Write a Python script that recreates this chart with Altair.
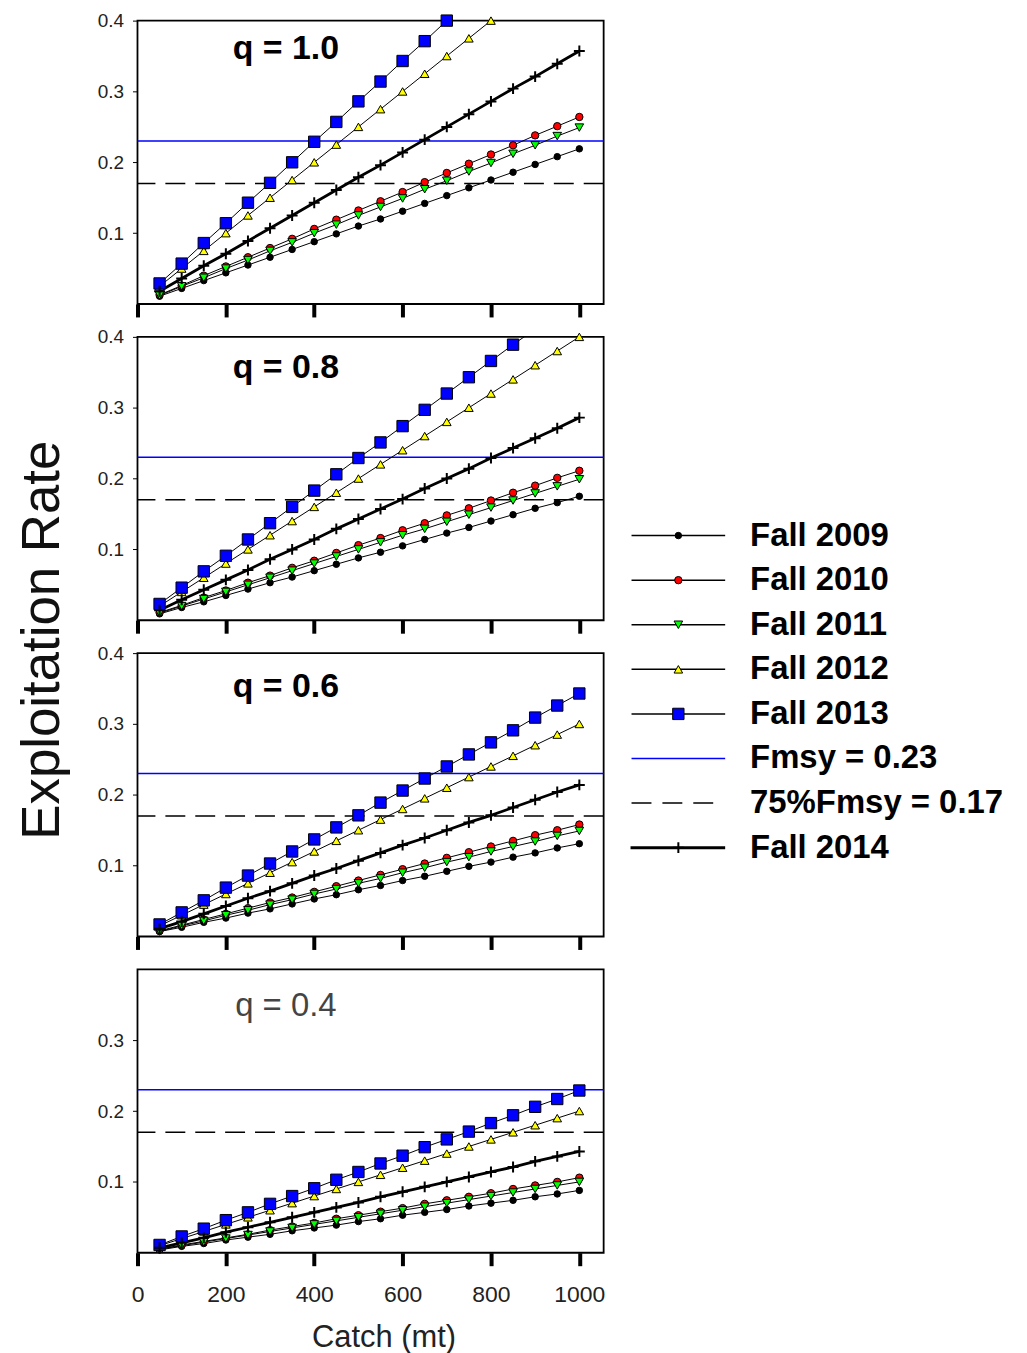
import altair as alt
import pandas as pd

# ---------------- data ----------------
catch = [50, 100, 150, 200, 250, 300, 350, 400, 450, 500,
         550, 600, 650, 700, 750, 800, 850, 900, 950, 1000]

series_names = ["Fall 2009", "Fall 2010", "Fall 2011", "Fall 2012", "Fall 2013", "Fall 2014"]
q_labels = ["q = 1.0", "q = 0.8", "q = 0.6", "q = 0.4"]

# q = 1.0
q10_2009 = [0.011, 0.022, 0.033, 0.044, 0.055, 0.066, 0.077, 0.088, 0.099, 0.110,
            0.120, 0.131, 0.142, 0.153, 0.164, 0.175, 0.186, 0.197, 0.208, 0.219]
q10_2010 = [0.013, 0.026, 0.040, 0.053, 0.066, 0.079, 0.092, 0.106, 0.119, 0.132,
            0.145, 0.158, 0.172, 0.185, 0.198, 0.211, 0.224, 0.238, 0.251, 0.264]
q10_2011 = [0.012, 0.025, 0.037, 0.050, 0.062, 0.075, 0.087, 0.100, 0.112, 0.125,
            0.137, 0.149, 0.162, 0.174, 0.187, 0.199, 0.212, 0.224, 0.237, 0.249]
q10_2012 = [0.025, 0.050, 0.075, 0.100, 0.125, 0.150, 0.175, 0.200, 0.225, 0.250,
            0.275, 0.300, 0.325, 0.350, 0.375, 0.400, 0.425, 0.450, 0.475, 0.500]
q10_2013 = [0.029, 0.057, 0.086, 0.114, 0.143, 0.171, 0.200, 0.229, 0.257, 0.286,
            0.314, 0.343, 0.371, 0.400, 0.429, 0.457, 0.486, 0.514, 0.543, 0.571]
q10_2014 = [0.018, 0.036, 0.054, 0.071, 0.089, 0.107, 0.125, 0.143, 0.161, 0.179,
            0.196, 0.214, 0.232, 0.250, 0.268, 0.286, 0.304, 0.321, 0.339, 0.357]

# q = 0.8
q08_2009 = [0.009, 0.018, 0.026, 0.035, 0.044, 0.053, 0.061, 0.070, 0.079, 0.088,
            0.096, 0.105, 0.114, 0.123, 0.131, 0.140, 0.149, 0.158, 0.166, 0.175]
q08_2010 = [0.011, 0.021, 0.032, 0.042, 0.053, 0.063, 0.074, 0.084, 0.095, 0.106,
            0.116, 0.127, 0.137, 0.148, 0.158, 0.169, 0.180, 0.190, 0.201, 0.211]
q08_2011 = [0.010, 0.020, 0.030, 0.040, 0.050, 0.060, 0.070, 0.080, 0.090, 0.100,
            0.110, 0.120, 0.129, 0.139, 0.149, 0.159, 0.169, 0.179, 0.189, 0.199]
q08_2012 = [0.020, 0.040, 0.060, 0.080, 0.100, 0.120, 0.140, 0.160, 0.180, 0.200,
            0.220, 0.240, 0.260, 0.280, 0.300, 0.320, 0.340, 0.360, 0.380, 0.400]
q08_2013 = [0.023, 0.046, 0.069, 0.091, 0.114, 0.137, 0.160, 0.183, 0.206, 0.229,
            0.251, 0.274, 0.297, 0.320, 0.343, 0.366, 0.389, 0.411, 0.434, 0.457]
q08_2014 = [0.014, 0.029, 0.043, 0.057, 0.071, 0.086, 0.100, 0.114, 0.129, 0.143,
            0.157, 0.171, 0.186, 0.200, 0.214, 0.229, 0.243, 0.257, 0.271, 0.286]

# q = 0.6
q06_2009 = [0.007, 0.013, 0.020, 0.026, 0.033, 0.039, 0.046, 0.053, 0.059, 0.066,
            0.072, 0.079, 0.085, 0.092, 0.099, 0.105, 0.112, 0.118, 0.125, 0.131]
q06_2010 = [0.008, 0.016, 0.024, 0.032, 0.040, 0.048, 0.055, 0.063, 0.071, 0.079,
            0.087, 0.095, 0.103, 0.111, 0.119, 0.127, 0.135, 0.143, 0.150, 0.158]
q06_2011 = [0.007, 0.015, 0.022, 0.030, 0.037, 0.045, 0.052, 0.060, 0.067, 0.075,
            0.082, 0.090, 0.097, 0.105, 0.112, 0.120, 0.127, 0.134, 0.142, 0.149]
q06_2012 = [0.015, 0.030, 0.045, 0.060, 0.075, 0.090, 0.105, 0.120, 0.135, 0.150,
            0.165, 0.180, 0.195, 0.210, 0.225, 0.240, 0.255, 0.270, 0.285, 0.300]
q06_2013 = [0.017, 0.034, 0.051, 0.069, 0.086, 0.103, 0.120, 0.137, 0.154, 0.171,
            0.189, 0.206, 0.223, 0.240, 0.257, 0.274, 0.291, 0.309, 0.326, 0.343]
q06_2014 = [0.011, 0.021, 0.032, 0.043, 0.054, 0.064, 0.075, 0.086, 0.096, 0.107,
            0.118, 0.129, 0.139, 0.150, 0.161, 0.171, 0.182, 0.193, 0.204, 0.214]

# q = 0.4
q04_2009 = [0.004, 0.009, 0.013, 0.018, 0.022, 0.026, 0.031, 0.035, 0.039, 0.044,
            0.048, 0.053, 0.057, 0.061, 0.066, 0.070, 0.074, 0.079, 0.083, 0.088]
q04_2010 = [0.005, 0.011, 0.016, 0.021, 0.026, 0.032, 0.037, 0.042, 0.048, 0.053,
            0.058, 0.063, 0.069, 0.074, 0.079, 0.084, 0.090, 0.095, 0.100, 0.106]
q04_2011 = [0.005, 0.010, 0.015, 0.020, 0.025, 0.030, 0.035, 0.040, 0.045, 0.050,
            0.055, 0.060, 0.065, 0.070, 0.075, 0.080, 0.085, 0.090, 0.095, 0.100]
q04_2012 = [0.010, 0.020, 0.030, 0.040, 0.050, 0.060, 0.070, 0.080, 0.090, 0.100,
            0.110, 0.120, 0.130, 0.140, 0.150, 0.160, 0.170, 0.180, 0.190, 0.200]
q04_2013 = [0.011, 0.023, 0.034, 0.046, 0.057, 0.069, 0.080, 0.091, 0.103, 0.114,
            0.126, 0.137, 0.149, 0.160, 0.171, 0.183, 0.194, 0.206, 0.217, 0.229]
q04_2014 = [0.007, 0.014, 0.021, 0.029, 0.036, 0.043, 0.050, 0.057, 0.064, 0.071,
            0.079, 0.086, 0.093, 0.100, 0.107, 0.114, 0.121, 0.129, 0.136, 0.143]

ref_names = ["Fmsy = 0.23", "75%Fmsy = 0.17"]
ref_values = [0.23, 0.17]

legend_entries = ["Fall 2009", "Fall 2010", "Fall 2011", "Fall 2012", "Fall 2013",
                  "Fmsy = 0.23", "75%Fmsy = 0.17", "Fall 2014"]

x_ticks = [0, 200, 400, 600, 800, 1000]
y_ticks = [0.1, 0.2, 0.3, 0.4]
y_ticks_last = [0.1, 0.2, 0.3]

# ---------------- table ----------------
panel_series = {
    "q = 1.0": [q10_2009, q10_2010, q10_2011, q10_2012, q10_2013, q10_2014],
    "q = 0.8": [q08_2009, q08_2010, q08_2011, q08_2012, q08_2013, q08_2014],
    "q = 0.6": [q06_2009, q06_2010, q06_2011, q06_2012, q06_2013, q06_2014],
    "q = 0.4": [q04_2009, q04_2010, q04_2011, q04_2012, q04_2013, q04_2014],
}
rows = []
for ql in q_labels:
    for name, vals in zip(series_names, panel_series[ql]):
        for c, v in zip(catch, vals):
            rows.append({"panel": ql, "series": name, "catch": c, "value": v})
df = pd.DataFrame(rows)
ref_df = pd.DataFrame({"name": ref_names, "value": ref_values})
leg_df = pd.DataFrame({"series": legend_entries})
lab_df = pd.DataFrame({"panel": q_labels})

# ---------------- styles ----------------
FONT = "Liberation Sans"
PLUS = "M-1,0H1M0,-1V1"
marker_names = series_names[:5]
shape_scale = alt.Scale(type="ordinal", domain=marker_names,
                        range=["circle", "circle", "triangle-down", "triangle-up", "square"])
fill_scale = alt.Scale(type="ordinal", domain=marker_names,
                       range=["#000000", "#ff0000", "#00ff00", "#ffff00", "#0000ff"])
size_scale = alt.Scale(type="ordinal", domain=marker_names, range=[42, 55, 75, 75, 130])

PW, PH = 468, 284.5
SP = 32.5
label_y = [29, 31, 34, 37]
is_marker = alt.FieldOneOfPredicate(field="series", oneOf=marker_names)
is_2014 = alt.datum.series == series_names[5]


def panel(i):
    last = i == 3
    x_enc = alt.X(
        "catch:Q",
        scale=alt.Scale(domain=[0, 1055], nice=False, zero=False),
        axis=alt.Axis(values=x_ticks, labels=last, title="Catch (mt)" if last else None,
                      format="d", labelFlush=False,
                      domain=False, grid=False, tickSize=13, tickWidth=4, tickColor="black",
                      labelFontSize=23, labelColor="#222", labelPadding=18, labelFont=FONT,
                      titleFontSize=31, titleFontWeight="normal", titleColor="#222",
                      titleFont=FONT, titlePadding=16, titleX=247, titleAnchor="start",
                      titleAlign="center"),
    )
    y_enc = alt.Y(
        "value:Q",
        scale=alt.Scale(domain=[0, 0.4], nice=False, zero=False),
        axis=alt.Axis(values=y_ticks_last if last else y_ticks, format=".1f", title=None,
                      labelFlush=False,
                      domain=False, grid=False, tickSize=5, tickWidth=1, tickColor="black",
                      labelFontSize=19, labelColor="#222", labelPadding=9, labelFont=FONT),
    )
    base = alt.Chart(df).transform_filter(alt.datum.panel == q_labels[i])

    fmsy = alt.Chart(ref_df).transform_filter(alt.datum.name == ref_names[0]).mark_rule(
        color="#0000ff", strokeWidth=1.6).encode(y=y_enc)
    f75 = alt.Chart(ref_df).transform_filter(alt.datum.name == ref_names[1]).mark_rule(
        color="#000000", strokeWidth=1.5, strokeDash=[20, 10]).encode(y=y_enc)

    thin = base.transform_filter(is_marker).mark_line(clip=True, color="black", strokeWidth=1).encode(
        x=x_enc, y=y_enc, detail="series:N", order="catch:Q")
    thick = base.transform_filter(is_2014).mark_line(clip=True, color="black", strokeWidth=2.8).encode(
        x=x_enc, y=y_enc, order="catch:Q")
    points = base.transform_filter(is_marker).transform_filter(alt.datum.value <= 0.4005).mark_point(
        filled=True, stroke="black", strokeWidth=1, opacity=1).encode(
        x=x_enc, y=y_enc,
        shape=alt.Shape("series:N", scale=shape_scale, legend=None),
        fill=alt.Fill("series:N", scale=fill_scale, legend=None),
        size=alt.Size("series:N", scale=size_scale, legend=None),
    )
    plus = base.transform_filter(is_2014).transform_filter(alt.datum.value <= 0.4005).mark_point(
        shape=PLUS, size=120, stroke="black", strokeWidth=2, opacity=1).encode(x=x_enc, y=y_enc)
    txt = alt.Chart(lab_df).transform_filter(alt.datum.panel == q_labels[i]).mark_text(
        font=FONT, fontSize=34 if not last else 33,
        fontWeight="normal" if last else "bold",
        color="#444" if last else "#000", align="center", baseline="middle",
    ).encode(x=alt.value(149), y=alt.value(label_y[i]), text="panel:N")

    return alt.layer(fmsy, f75, thin, thick, points, plus, txt).properties(width=PW, height=PH)


panels = alt.vconcat(*[panel(i) for i in range(4)], spacing=SP, bounds="flush")

# ---------------- legend ----------------
LEG_H = 4 * PH + 3 * SP
y_leg = alt.Y("series:N", scale=alt.Scale(type="point", domain=legend_entries,
                                          range=[517, 830.3], padding=0), axis=None)
lb = alt.Chart(leg_df)
leg_thin = lb.transform_filter(is_marker).mark_rule(
    color="black", strokeWidth=1.5).encode(x=alt.value(6), x2=alt.value(100), y=y_leg)
leg_fmsy = lb.transform_filter(alt.datum.series == legend_entries[5]).mark_rule(
    color="#0000ff", strokeWidth=1.6).encode(x=alt.value(6), x2=alt.value(100), y=y_leg)
leg_75 = lb.transform_filter(alt.datum.series == legend_entries[6]).mark_rule(
    color="black", strokeWidth=1.5, strokeDash=[20, 11]).encode(x=alt.value(6), x2=alt.value(92), y=y_leg)
leg_thick = lb.transform_filter(is_2014).mark_rule(
    color="black", strokeWidth=3).encode(x=alt.value(5), x2=alt.value(100), y=y_leg)
leg_pts = lb.transform_filter(is_marker).mark_point(
    filled=True, stroke="black", strokeWidth=1, opacity=1).encode(
    x=alt.value(53), y=y_leg,
    shape=alt.Shape("series:N", scale=shape_scale, legend=None),
    fill=alt.Fill("series:N", scale=fill_scale, legend=None),
    size=alt.Size("series:N", scale=size_scale, legend=None),
)
leg_plus = lb.transform_filter(is_2014).mark_point(
    shape=PLUS, size=120, stroke="black", strokeWidth=2, opacity=1).encode(x=alt.value(53), y=y_leg)
leg_txt = lb.mark_text(font=FONT, fontSize=33, fontWeight="bold", align="left",
                       baseline="middle", color="black").encode(
    x=alt.value(125), y=y_leg, text="series:N")

legend = alt.layer(leg_thin, leg_fmsy, leg_75, leg_thick, leg_pts, leg_plus, leg_txt).properties(
    width=395, height=LEG_H, view=alt.ViewBackground(strokeOpacity=0))

chart = alt.hconcat(panels, legend, spacing=19, bounds="full").properties(
    title=alt.TitleParams("Exploitation Rate", orient="left", anchor="middle", fontSize=53,
                          font=FONT, fontWeight="normal", color="#111", offset=26, dx=42),
    padding={"left": 9, "top": 0, "right": 0, "bottom": 0},
).configure(font=FONT).configure_view(stroke="black", strokeWidth=1.8)

chart.save("out.html", embed_options={"renderer": "svg", "actions": False})
